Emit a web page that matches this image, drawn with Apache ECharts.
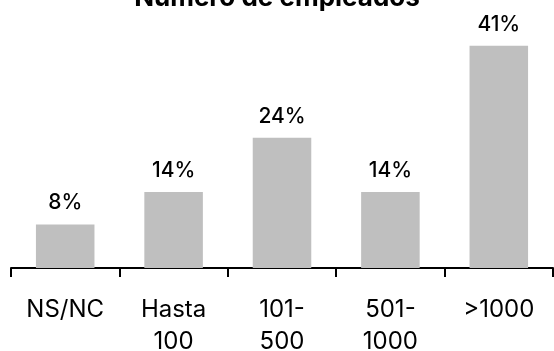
<!DOCTYPE html>
<html>
<head>
<meta charset="utf-8">
<script src="https://cdn.jsdelivr.net/npm/echarts@6/dist/echarts.min.js"></script>
<style>
  html, body { margin: 0; padding: 0; background: #fff; }
  #chart { width: 554px; height: 351px; }
</style>
</head>
<body>
<div id="chart"></div>
<script>
// Company size categories and share of respondents (%)
const categories = ['NS/NC', 'Hasta\n100', '101-\n500', '501-\n1000', '>1000'];
const shares = [8, 14, 24, 14, 41];
const titleText = 'Número de empleados';

const FONT = 'Inter';
const chart = echarts.init(document.getElementById('chart'));
chart.setOption({
  animation: false,
  backgroundColor: '#ffffff',
  title: {
    text: titleText,
    left: 'center',
    top: -20,
    textStyle: { fontFamily: FONT, fontSize: 26, fontWeight: 'bold', color: '#000' }
  },
  grid: { left: 11, right: 1, top: 24, bottom: 83, outerBoundsMode: 'none' },
  xAxis: {
    type: 'category',
    data: categories,
    axisLine: { lineStyle: { color: '#000', width: 2 } },
    axisTick: { show: true, length: 9, lineStyle: { color: '#000', width: 2 } },
    axisLabel: {
      margin: 26,
      fontFamily: FONT,
      fontSize: 24,
      lineHeight: 32,
      color: '#000',
      interval: 0
    }
  },
  yAxis: {
    type: 'value',
    min: 0,
    max: 45,
    show: false
  },
  series: [{
    type: 'bar',
    data: shares,
    barWidth: '54%',
    itemStyle: { color: '#bfbfbf' },
    label: {
      show: true,
      position: 'top',
      distance: 11,
      formatter: '{c}%',
      fontFamily: FONT,
      fontSize: 21,
      fontWeight: 500,
      color: '#000'
    }
  }]
});
</script>
</body>
</html>
